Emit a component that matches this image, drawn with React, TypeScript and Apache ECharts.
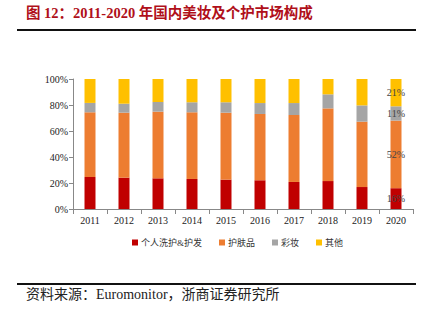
import React, { useEffect, useRef } from "react";
import * as echarts from "echarts";

const years = ["2011", "2012", "2013", "2014", "2015", "2016", "2017", "2018", "2019", "2020"];
const personalCare = [24.6, 24.1, 23.6, 23.1, 22.6, 22.1, 20.8, 21.5, 16.9, 16];
const skinCare = [49.8, 50, 51.3, 51.3, 51.5, 51, 51.5, 55.9, 50.3, 52];
const makeup = [7.2, 6.9, 7.4, 7.7, 8, 8.4, 9.2, 10.8, 12.5, 11];
const others = [18.4, 19, 17.7, 17.9, 17.9, 18.5, 18.5, 11.8, 20.3, 21];
const seriesNames = ["个人洗护&护发", "护肤品", "彩妆", "其他"];
const colors = ["#C00000", "#ED7D31", "#A5A5A5", "#FFC000"];
const yTicks = [0, 20, 40, 60, 80, 100];

const serif = "'Liberation Serif', 'Noto Sans CJK SC', serif";

export default function App() {
  const ref = useRef<HTMLDivElement>(null);
  useEffect(() => {
    if (!ref.current) return;
    const chart = echarts.init(ref.current, null, { renderer: "svg" });
    const all = [personalCare, skinCare, makeup, others];
    const mk = (arr: number[]) =>
      arr.map((v, i) =>
        i === arr.length - 1
          ? { value: v, label: { show: true, formatter: "{c}%" } }
          : v
      );
    chart.setOption({
      animation: false,
      backgroundColor: "#fff",
      color: colors,
      grid: { left: 73, right: 23, top: 79, bottom: 113 },
      legend: {
        data: seriesNames,
        top: 233,
        left: 127,
        itemWidth: 6,
        itemHeight: 6,
        itemGap: 17,
        icon: "rect",
        textStyle: { fontSize: 9, color: "#333", fontFamily: serif, padding: [0, 0, 0, -2] },
      },
      xAxis: {
        type: "category",
        data: years,
        axisLine: { lineStyle: { color: "#888" } },
        axisTick: { show: true, lineStyle: { color: "#888" } },
        axisLabel: { color: "#222", fontSize: 10, fontFamily: serif, margin: 6 },
      },
      yAxis: {
        type: "value",
        min: 0,
        max: 100,
        interval: 20,
        axisLine: { show: true, lineStyle: { color: "#888" } },
        axisTick: { show: true, lineStyle: { color: "#888" }, length: 4 },
        splitLine: { show: false },
        axisLabel: {
          color: "#222",
          fontSize: 10,
          fontFamily: serif,
          margin: 5,
          formatter: (v: number) => (yTicks.includes(v) ? v + "%" : ""),
        },
      },
      graphic: [
        {
          type: "text",
          left: 26,
          top: 6,
          style: {
            text: "图 12：2011-2020 年国内美妆及个护市场构成",
            fill: "#B0101A",
            font: "bold 14.5px 'Liberation Serif', 'Noto Sans CJK SC', serif",
          },
        },
        {
          type: "line",
          shape: { x1: 17, y1: 30, x2: 416, y2: 30 },
          style: { stroke: "#111", lineWidth: 2 },
        },
        {
          type: "line",
          shape: { x1: 17, y1: 284, x2: 416, y2: 284 },
          style: { stroke: "#111", lineWidth: 2 },
        },
        {
          type: "text",
          left: 26,
          top: 287,
          style: {
            text: "资料来源：Euromonitor，浙商证券研究所",
            fill: "#222",
            font: "14px 'Liberation Serif', 'Noto Sans CJK SC', serif",
          },
        },
      ],
      series: all.map((arr, i) => ({
        name: seriesNames[i],
        type: "bar",
        stack: "total",
        barWidth: 11,
        data: mk(arr),
        itemStyle: { color: colors[i] },
        label: {
          show: false,
          position: "inside",
          color: "#444",
          fontSize: 10,
          fontFamily: serif,
        },
      })),
    });
    return () => chart.dispose();
  }, []);
  return (
    <div
      ref={ref}
      style={{ position: "fixed", left: 0, top: 0, width: 436, height: 322 }}
    />
  );
}
